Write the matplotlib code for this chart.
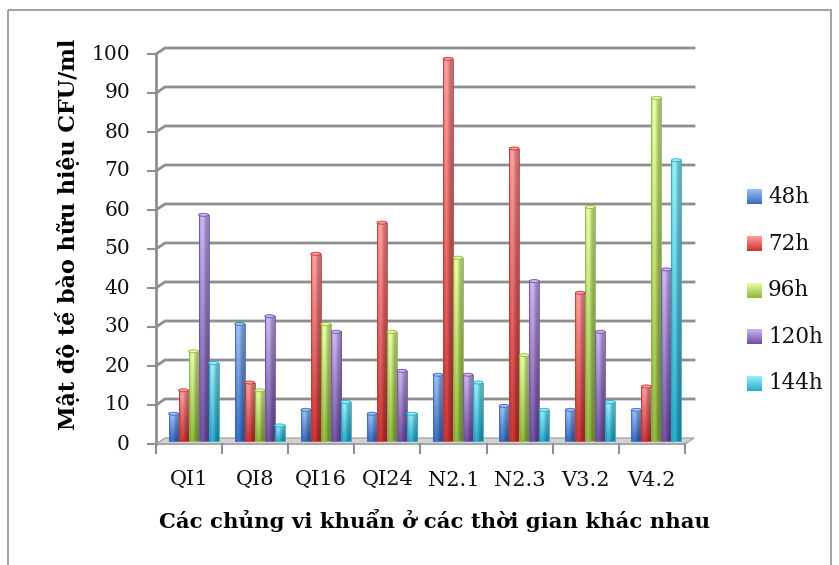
import matplotlib.pyplot as plt
import numpy as np
from matplotlib.patches import Rectangle, Polygon, Ellipse
from matplotlib.colors import to_rgb

# CFU/ml per strain, one list per incubation time
strains = ['QI1', 'QI8', 'QI16', 'QI24', 'N2.1', 'N2.3', 'V3.2', 'V4.2']
hours = ['48h', '72h', '96h', '120h', '144h']
h48 = [7, 30, 8, 7, 17, 9, 8, 8]
h72 = [13, 15, 48, 56, 98, 75, 38, 14]
h96 = [23, 13, 30, 28, 47, 22, 60, 88]
h120 = [58, 32, 28, 18, 17, 41, 28, 44]
h144 = [20, 4, 10, 7, 15, 8, 10, 72]
series = [h48, h72, h96, h120, h144]
yticks = list(range(0, 101, 10))

# (light top, dark bottom) for each series
shades = [('#9cc0f6', '#3a6cc2'),
          ('#ff9c9c', '#cc3434'),
          ('#e4ff9e', '#8fb83f'),
          ('#cbb4f2', '#7050a4'),
          ('#92eefa', '#28acce')]

serif = 'DejaVu Serif'
grid_c = '#8e8e8e'
W, H = 839, 565

fig = plt.figure(figsize=(W / 100, H / 100), dpi=100)

# plot box in pixels: x 156..685, y 444 (0) .. 54 (100)
x0, x1, yb, yt = 156, 685, 444, 54
ax = fig.add_axes([x0 / W, (H - yb) / H, (x1 - x0) / W, (yb - yt) / H])
ax.set_xlim(0, 8)
ax.set_ylim(0, 100)
ax.axis('off')

pxx = (x1 - x0) / 8.0     # pixels per category
pxy = (yb - yt) / 100.0   # pixels per unit
ddx = 9 / pxx             # depth offset of the back wall
ddy = 6 / pxy

# floor
ax.add_patch(Polygon([(0, 0), (8, 0), (8 + ddx, ddy), (ddx, ddy)], closed=True,
                     facecolor='#d2d2d2', edgecolor='#a8a8a8', lw=1, clip_on=False, zorder=1))

# back wall gridlines with the slanted joins to the axis
for v in yticks[1:]:
    ax.plot([0, ddx, 8 + ddx], [v, v + ddy, v + ddy], color=grid_c, lw=2,
            solid_joinstyle='miter', clip_on=False, zorder=1)
    ax.plot([0, -8 / pxx], [v, v], color=grid_c, lw=1.5, clip_on=False, zorder=1)
ax.plot([0, -8 / pxx], [0, 0], color=grid_c, lw=1.5, clip_on=False, zorder=1)
ax.plot([0, 0], [0, 100], color=grid_c, lw=2, clip_on=False, zorder=1)
ax.plot([0, 8], [0, 0], color='#a8a8a8', lw=1.5, clip_on=False, zorder=1)
for i in range(9):
    ax.plot([i, i], [0, -9 / pxy], color=grid_c, lw=1.5, clip_on=False, zorder=1)

for v in yticks:
    ax.text(-26 / pxx, v, str(v), ha='right', va='center', fontsize=14.5,
            family=serif, color='#111111')
for i, s in enumerate(strains):
    ax.text(i + 0.5, -36 / pxy, s, ha='center', va='center', fontsize=15,
            family=serif, color='#111111')

# cylinder-ish bars: vertical light->dark gradient with darker sides
bw = 10 / pxx
lift = ddy / 2            # bars stand half way into the floor depth
across = np.linspace(0, 1, 24)
side = 0.72 + 0.32 * np.exp(-((across - 0.33) / 0.3) ** 2)
side = np.clip(side, 0, 1.03)


def gradient(top, bot, n=64):
    t = np.linspace(0, 1, n)[:, None, None]
    top = np.array(to_rgb(top))[None, None, :]
    bot = np.array(to_rgb(bot))[None, None, :]
    return top * (1 - t) + bot * t


for k, vals in enumerate(series):
    light, dark = shades[k]
    grad = gradient(light, dark)
    img = np.clip(grad * side[None, :, None], 0, 1)
    for i, v in enumerate(vals):
        left = i + 0.19 + k * bw
        ax.imshow(img, extent=(left, left + bw, lift, v + lift), aspect='auto',
                  interpolation='bilinear', zorder=3, clip_on=False)
        ax.add_patch(Rectangle((left, lift), bw, v, facecolor='none', edgecolor=dark,
                               lw=0.6, zorder=4, clip_on=False))
        ax.add_patch(Ellipse((left + bw / 2, v + lift), bw, 3 / pxy, facecolor=light,
                             edgecolor=dark, lw=0.6, zorder=5, clip_on=False))

ax.set_xlim(0, 8)
ax.set_ylim(0, 100)

# overlay in pixel coordinates for the frame, axis titles and legend
ov = fig.add_axes([0, 0, 1, 1], zorder=-1)
ov.set_xlim(0, W)
ov.set_ylim(H, 0)
ov.axis('off')
ov.add_patch(Rectangle((8, 10), 823, 570, facecolor='none', edgecolor='#9a9a9a', lw=1.3))

fig.text(68 / W, 1 - 234 / H, 'Mật độ tế bào hữu hiệu CFU/ml', rotation=90,
         ha='center', va='center', fontsize=16, fontweight='bold', family=serif)
fig.text(435 / W, 1 - 521 / H, 'Các chủng vi khuẩn ở các thời gian khác nhau',
         ha='center', va='center', fontsize=15.3, fontweight='bold', family=serif)

leg = fig.add_axes([0, 0, 1, 1])
leg.set_xlim(0, W)
leg.set_ylim(H, 0)
leg.axis('off')
for k, name in enumerate(hours):
    cy = 197 + 46.6 * k
    light, dark = shades[k]
    leg.imshow(gradient(light, dark, 16), extent=(747, 762, cy + 7.5, cy - 7.5),
               aspect='auto', interpolation='bilinear')
    leg.text(768, cy, name, ha='left', va='center', fontsize=15.5, family=serif,
             color='#111111')
leg.set_xlim(0, W)
leg.set_ylim(H, 0)

fig.savefig('out.png', dpi=100)
